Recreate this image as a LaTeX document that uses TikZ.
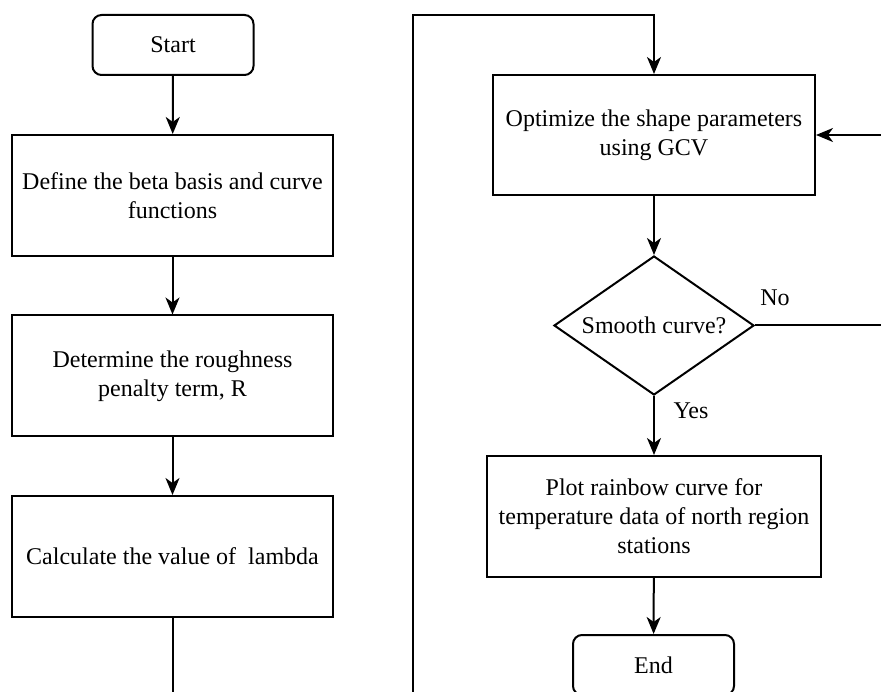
\documentclass[tikz,border=0pt]{standalone}
\usepackage{fontspec}
\setmainfont{Liberation Serif}
\usetikzlibrary{shapes.geometric,arrows.meta}
\begin{document}
\begin{tikzpicture}[x=1pt,y=-1pt,
  every node/.style={font=\fontsize{24}{29}\selectfont},
  termbox/.style={draw,line width=2pt,rounded corners=9pt,minimum width=161pt,minimum height=60pt,inner sep=0pt},
  procbox/.style={draw,line width=2pt,minimum width=321pt,minimum height=121pt,align=center,inner sep=0pt},
  decbox/.style={draw,line width=2pt,diamond,aspect=1.44,minimum width=200pt,minimum height=139pt,inner sep=0pt},
  conn/.style={line width=2pt,-{Stealth[length=17pt,width=14pt,inset=5pt]}},
  lbl/.style={inner sep=0pt}]
\clip (0,0) rectangle (881,692);
\fill[white] (0,0) rectangle (881,692);
\node[termbox] (start) at (173,45) {Start};
\node[procbox] (b1) at (172.5,195.5) {Define the beta basis and curve\\functions};
\node[procbox] (b2) at (172.5,376) {Determine the roughness\\penalty term, R};
\node[procbox] (b3) at (172.5,556.5) {Calculate the value of \ lambda};
\node[procbox,minimum width=322pt,minimum height=120pt] (opt) at (654,135) {Optimize the shape parameters\\using GCV};
\node[decbox] (dec) at (654,325.5) {Smooth curve?};
\node[procbox,minimum width=334pt] (plot) at (654,516.5) {Plot rainbow curve for\\temperature data of north region\\stations};
\node[termbox] (end) at (653.5,665) {End};
\node[lbl] (no) at (775,298) {No};
\node[lbl] (yes) at (691,411) {Yes};
\coordinate (lb) at (172.5,720);
\coordinate (rb) at (413,720);
\coordinate (tp) at (413,15);
\coordinate (re) at (900,325.5);
\draw[conn] (start) -- (b1);
\draw[conn] (b1) -- (b2);
\draw[conn] (b2) -- (b3);
\draw[conn] (b3.south) -- (lb) -- (rb) -- (tp) -| (opt.north);
\draw[conn] (opt) -- (dec);
\draw[conn] (dec.east) -- (re) |- (opt.east);
\draw[conn] (dec) -- (plot);
\draw[conn] (plot) -- (end);
\end{tikzpicture}
\end{document}
